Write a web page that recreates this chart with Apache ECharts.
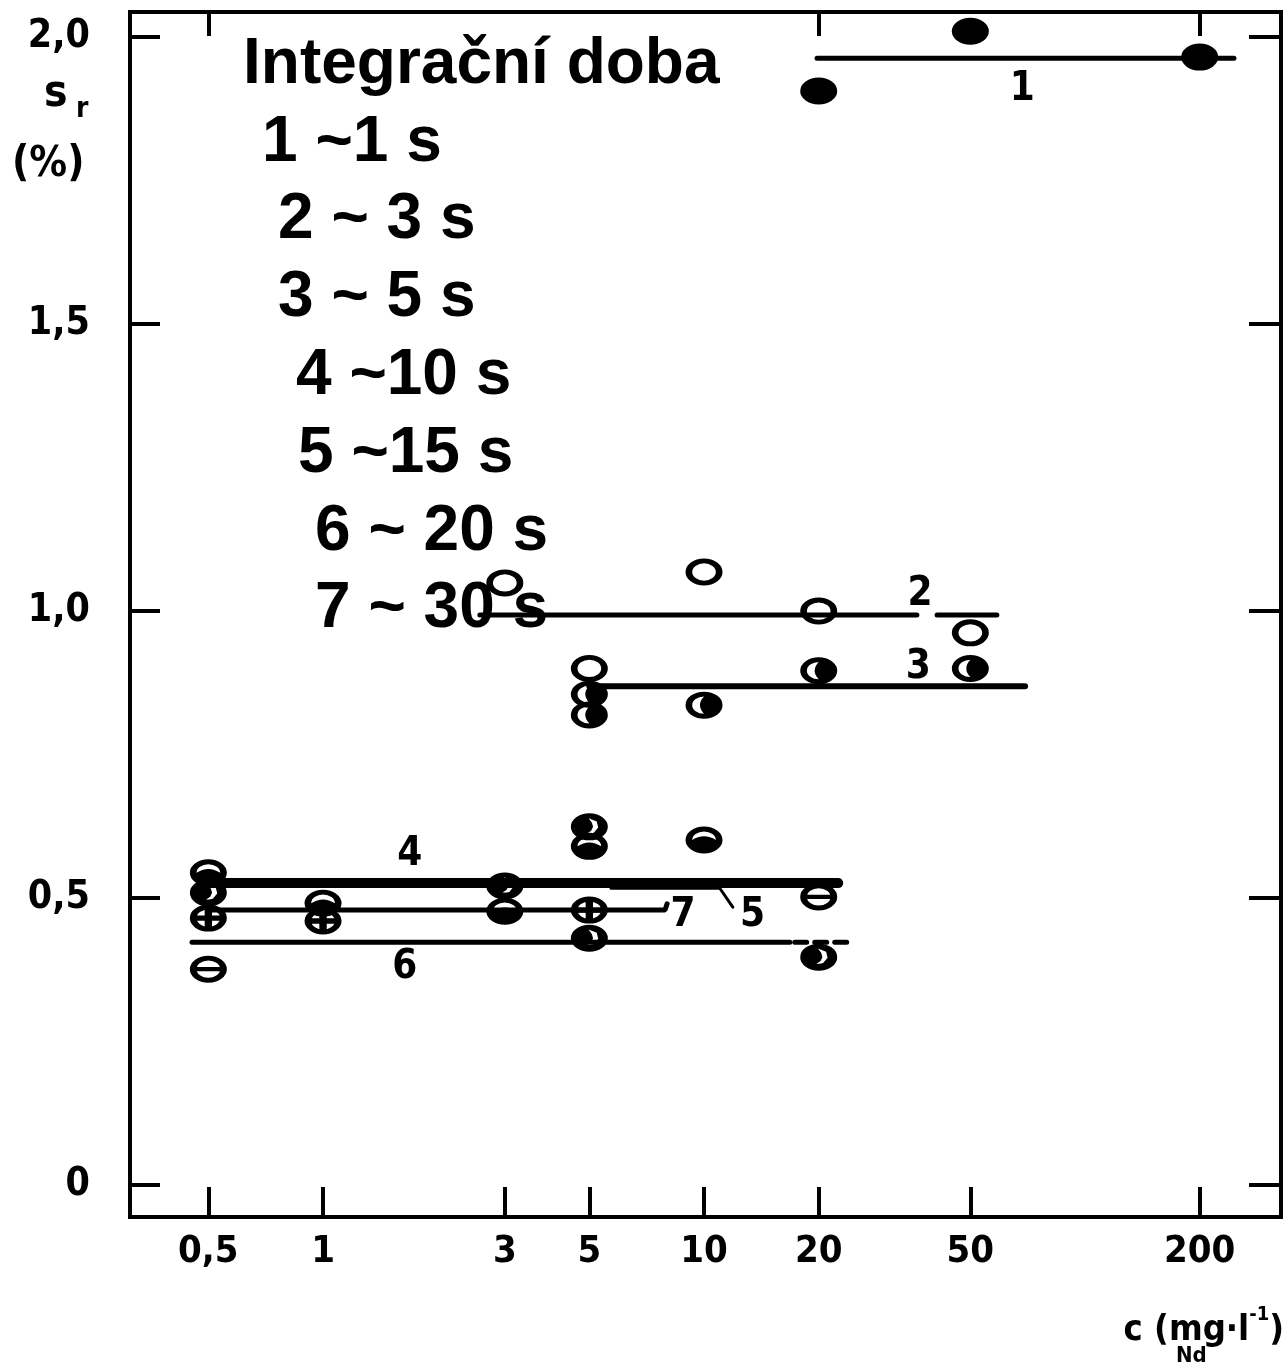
<!DOCTYPE html>
<html>
<head>
<meta charset="utf-8">
<script src="https://cdn.jsdelivr.net/npm/echarts@6/dist/echarts.min.js"></script>
<style>
html,body{margin:0;padding:0;background:#fff;}
#chart{width:1286px;height:1370px;}
</style>
</head>
<body>
<div id="chart"></div>
<script>
// ---- axis ticks ----
const xTickValues = [0.5, 1, 3, 5, 10, 20, 50, 200];
const xTopTickValues = [0.5, 20, 200];
const yTickValues = [0, 0.5, 1.0, 1.5, 2.0];

// ---- legend text ----
const legendTitle = 'Integrační doba';
const legendLines = ['1 ~1 s', '2 ~ 3 s', '3 ~ 5 s', '4 ~10 s', '5 ~15 s', '6 ~ 20 s', '7 ~ 30 s'];

// ---- measured points (c in mg/l, s_r in %) ----
const pts1 = [[20, 1.906], [50, 2.010], [200, 1.965]];
const pts2 = [[3, 1.049], [5, 0.900], [10, 1.068], [20, 1.000], [50, 0.962]];
const pts3 = [[5, 0.855], [5, 0.819], [10, 0.836], [20, 0.896], [50, 0.900]];
const pts4 = [[0.5, 0.509], [3, 0.521], [5, 0.624], [5, 0.430], [20, 0.397]];
const pts5 = [[0.5, 0.544], [1, 0.491], [3, 0.477], [5, 0.590], [10, 0.601]];
const pts6 = [[0.5, 0.376], [20, 0.502]];
const pts7 = [[0.5, 0.465], [1, 0.460], [5, 0.479]];

// ---- mean lines ----
const fit1 = [[19.8, 1.963], [246, 1.963]];
const fit2a = [[2.58, 0.993], [36.2, 0.993]];
const fit2b = [[40.9, 0.993], [58.7, 0.993]];
const fit3 = [[5.0, 0.869], [69.6, 0.869]];
const fit4 = [[0.5, 0.526], [22.5, 0.526]];
const fit5 = [[5.7, 0.517], [11.0, 0.517], [11.9, 0.484]];
const fit6 = [[0.453, 0.423], [16.8, 0.423]];
const fit6d = [[17.3, 0.423], [24.0, 0.423]];
const fit7 = [[0.5, 0.479], [7.9, 0.479], [8.0, 0.490]];

// ---- line labels (text, anchor in data coords) ----
const lineLabels = [['1', 68.4, 1.908], ['2', 36.9, 1.028], ['3', 36.5, 0.901], ['4', 1.69, 0.575],
                    ['5', 13.4, 0.470], ['6', 1.64, 0.378], ['7', 8.81, 0.470]];

// ---- marker shapes (100x100 box, stretched) ----
const OUT = 'M50,0 A50,50 0 1,1 50,100 A50,50 0 1,1 50,0 Z ';
const HOLE = 'M50,18 A32,32 0 1,0 50,82 A32,32 0 1,0 50,18 Z ';
const SYM_FILLED = 'path://' + OUT;
const SYM_RING = 'path://' + OUT + HOLE;
const SYM_RIGHT = 'path://' + OUT + HOLE + 'M50,18 A32,32 0 0,1 50,82 Q28,50 50,18 Z';
const SYM_TOPLENS = 'path://' + OUT + HOLE + 'M18,50 A32,32 0 0,0 82,50 Q50,22 18,50 Z';
const SYM_CROSS = 'path://' + OUT + HOLE + 'M18,40 L82,40 L82,60 L18,60 Z M40,18 L60,18 L60,82 L40,82 Z';
const SYM_BAR = 'path://' + OUT + HOLE + 'M18,42 L82,42 L82,58 L18,58 Z';
const SYM_MOON = 'path://' + OUT + 'M48,18 L57,35 L60,50 L55,64 L40,78 L62,72 L74,52 L70,30 Z M30,78 Q50,70 70,80 Q50,90 30,78 Z';

const NUMFONT = '"DejaVu Sans Condensed", "DejaVu Sans", sans-serif';
const SYMSIZE = [37, 27];

const chart = echarts.init(document.getElementById('chart'), null, {renderer: 'canvas'});

function pointSeries(name, data, symbol) {
  return {name: name, type: 'scatter', data: data, symbol: symbol, symbolSize: SYMSIZE,
          itemStyle: {color: '#000', opacity: 1}, z: 5, silent: true};
}
function lineSeries(data, width, dashed) {
  return {type: 'line', data: data, symbol: 'none', z: 4, silent: true,
          lineStyle: {color: '#000', width: width, type: dashed ? [12, 8] : 'solid', cap: 'round'}};
}

const option = {
  backgroundColor: '#fff',
  animation: false,
  grid: {left: 130, top: 12, right: 5, bottom: 153, show: true, borderColor: '#000', borderWidth: 4, backgroundColor: 'transparent'},
  xAxis: [{
    type: 'log', logBase: 10, min: 0.3114, max: 326.9, position: 'bottom',
    axisLine: {show: false, onZero: false}, splitLine: {show: false}, minorTick: {show: false},
    axisTick: {show: true, inside: true, length: 30, customValues: xTickValues, lineStyle: {color: '#000', width: 4}},
    axisLabel: {show: true, customValues: xTickValues, margin: 16, color: '#000', fontSize: 38, fontWeight: 'bold', fontFamily: NUMFONT,
      formatter: v => String(v).replace('.', ',')}
  }, {
    type: 'log', logBase: 10, min: 0.3114, max: 326.9, position: 'top',
    axisLine: {show: false, onZero: false}, splitLine: {show: false},
    axisTick: {show: true, inside: true, length: 24, customValues: xTopTickValues, lineStyle: {color: '#000', width: 4}},
    axisLabel: {show: false}
  }],
  yAxis: [{
    type: 'value', min: -0.0557, max: 2.0436, position: 'left',
    axisLine: {show: false, onZero: false}, splitLine: {show: false},
    axisTick: {show: true, inside: true, length: 30, customValues: yTickValues, lineStyle: {color: '#000', width: 4}},
    axisLabel: {show: true, customValues: yTickValues, margin: 40, color: '#000', fontSize: 39, fontWeight: 'bold', fontFamily: NUMFONT,
      formatter: v => v === 0 ? '0' : v.toFixed(1).replace('.', ',')}
  }, {
    type: 'value', min: -0.0557, max: 2.0436, position: 'right',
    axisLine: {show: false, onZero: false}, splitLine: {show: false},
    axisTick: {show: true, inside: true, length: 32, customValues: yTickValues, lineStyle: {color: '#000', width: 4}},
    axisLabel: {show: false}
  }],
  series: [
    lineSeries(fit1, 5), lineSeries(fit2a, 5), lineSeries(fit2b, 5), lineSeries(fit3, 6),
    lineSeries(fit4, 10), lineSeries(fit5, 3), lineSeries(fit6, 5), lineSeries(fit6d, 5, true), lineSeries(fit7, 5),
    pointSeries('1 s', pts1, SYM_FILLED),
    pointSeries('3 s', pts2, SYM_RING),
    pointSeries('5 s', pts3, SYM_RIGHT),
    pointSeries('10 s', pts4, SYM_MOON),
    pointSeries('15 s', pts5, SYM_TOPLENS),
    pointSeries('20 s', pts6, SYM_BAR),
    pointSeries('30 s', pts7, SYM_CROSS)
  ]
};
chart.setOption(option);

// graphic annotations
const g = [];
const LEGFONT = 'bold 64px "Liberation Sans", Arial, sans-serif';
g.push({type: 'text', x: 243, y: 65, z: 20, style: {text: legendTitle, font: LEGFONT, fill: '#000', textVerticalAlign: 'middle'}});
const legX = [262, 278, 278, 296, 298, 315, 315];
legendLines.forEach((t, i) => {
  g.push({type: 'text', x: legX[i], y: 143 + i * 77.8, z: 20,
          style: {text: t, font: LEGFONT, fill: '#000', textVerticalAlign: 'middle'}});
});
lineLabels.forEach(([t, xv, yv]) => {
  const p = chart.convertToPixel({gridIndex: 0}, [xv, yv]);
  g.push({type: 'text', x: p[0], y: p[1], z: 10,
          style: {text: t, font: 'bold 40px ' + NUMFONT, fill: '#000', textAlign: 'center', textVerticalAlign: 'middle'}});
});
// y-axis title
g.push({type: 'text', x: 44, y: 95, z: 10, style: {text: 's', font: 'bold 44px ' + NUMFONT, fill: '#000', textVerticalAlign: 'middle'}});
g.push({type: 'text', x: 76, y: 110, z: 10, style: {text: 'r', font: 'bold 28px ' + NUMFONT, fill: '#000', textVerticalAlign: 'middle'}});
g.push({type: 'text', x: 12, y: 165, z: 10, style: {text: '(%)', font: 'bold 42px ' + NUMFONT, fill: '#000', textVerticalAlign: 'middle'}});
// x-axis title
g.push({type: 'text', x: 1284, y: 1327, z: 10, style: {
  text: '{a|c (mg·l}{s|-1}{a|)}', textAlign: 'right', textVerticalAlign: 'middle',
  rich: {a: {font: 'bold 36px ' + NUMFONT, fill: '#000', lineHeight: 44, verticalAlign: 'bottom'},
         s: {font: 'bold 20px ' + NUMFONT, fill: '#000', lineHeight: 20, verticalAlign: 'top'}}}});
g.push({type: 'text', x: 1176, y: 1356, z: 10, style: {text: 'Nd', font: 'bold 22px ' + NUMFONT, fill: '#000', textVerticalAlign: 'middle'}});
chart.setOption({graphic: g});
</script>
</body>
</html>
